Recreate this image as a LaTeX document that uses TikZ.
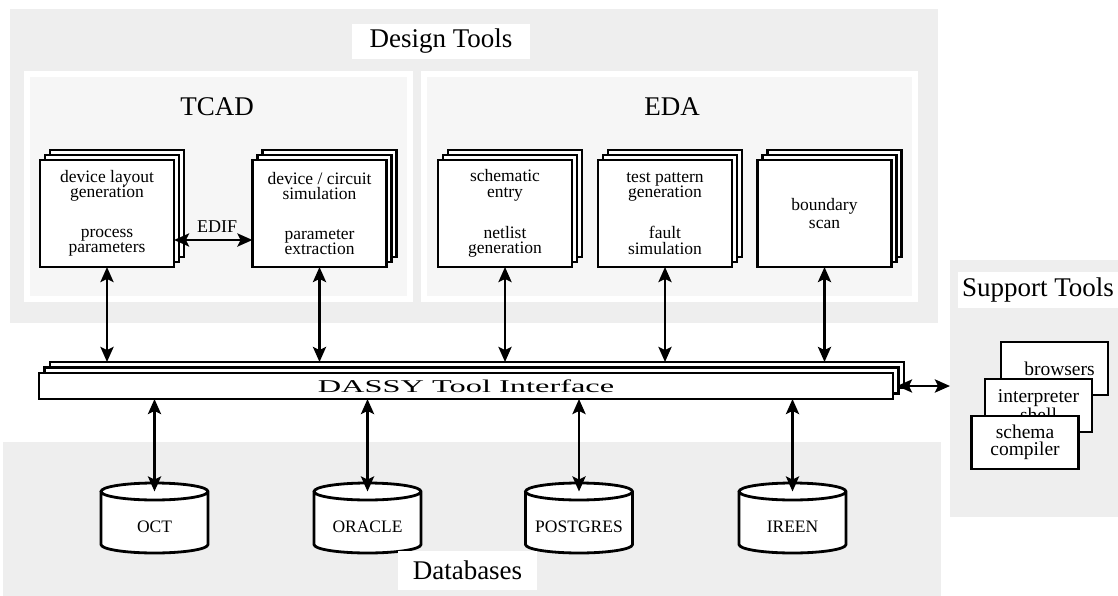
\documentclass[tikz,border=0pt]{standalone}
\usepackage{fontspec}
\setmainfont{Liberation Serif}
\usetikzlibrary{arrows.meta}
\definecolor{panelgray}{HTML}{EEEEEE}
\definecolor{subgray}{HTML}{F6F6F6}
\pgfdeclarelayer{bg}
\pgfdeclarelayer{mid}
\pgfsetlayers{bg,mid,main}
\begin{document}
\begin{tikzpicture}[x=1pt,y=-1pt,
  graypanel/.style={fill=panelgray,draw=none,inner sep=0pt,outer sep=0pt,anchor=north west},
  subpanel/.style={fill=subgray,draw=white,line width=6pt,inner sep=0pt,outer sep=0pt,anchor=north west},
  titlebox/.style={fill=white,inner sep=0pt,outer sep=0pt,font=\fontsize{27}{30}\selectfont},
  paneltitle/.style={font=\fontsize{27}{30}\selectfont,inner sep=0pt},
  toolbox/.style={draw,fill=white,line width=2.8pt,minimum width=134pt,minimum height=107pt,inner sep=0pt,outer sep=0pt,align=center,font=\fontsize{17.5}{15.5}\selectfont},
  layerbox/.style={draw,fill=white,line width=2.8pt},
  dbbody/.style={inner sep=0pt,outer sep=0pt,minimum width=107pt,minimum height=53pt,font=\fontsize{17.5}{20}\selectfont},
  cylpath/.style={draw,fill=white,line width=2.8pt},
  supbox/.style={draw,fill=white,line width=2.3pt,minimum width=107pt,minimum height=53pt,inner sep=0pt,outer sep=0pt,align=center,font=\fontsize{19.5}{17.5}\selectfont},
  biarrow/.style={line width=2.8pt,{Stealth[length=15pt,width=13pt,inset=3pt]}-{Stealth[length=15pt,width=13pt,inset=3pt]}},
  edif/.style={font=\fontsize{18}{20}\selectfont,inner sep=0pt}
]
\useasboundingbox (0,0) rectangle (1118,596);

% ---------- background panels ----------
\begin{pgfonlayer}{bg}
\node[graypanel,minimum width=928pt,minimum height=314pt] (design) at (10,9) {};
\node[graypanel,minimum width=938pt,minimum height=154pt] (dbpanel) at (3,442) {};
\node[graypanel,minimum width=168pt,minimum height=257pt] (supp) at (950,260) {};
\node[subpanel,minimum width=383pt,minimum height=225pt] (tcadp) at (27,74) {};
\node[subpanel,minimum width=491pt,minimum height=225pt] (edap) at (424,74) {};
\end{pgfonlayer}

% ---------- titles ----------
\node[titlebox,minimum width=178pt,minimum height=35pt] (designt) at (441,41.5) {Design Tools};
\node[titlebox,minimum width=160pt,minimum height=36pt] (suppt) at (1038,290) {Support Tools};
\node[titlebox,minimum width=139pt,minimum height=39pt] (dbt) at (467.5,570.5) {Databases};
\node[paneltitle] (tcadt) at (217,107) {TCAD};
\node[paneltitle] (edat) at (672,107) {EDA};

% ---------- tool boxes ----------
\node[toolbox] (b1) at (107,213.5) {device layout\\generation\\[24pt]process\\parameters};
\node[toolbox] (b2) at (319.5,213.5) {device / circuit\\simulation\\[24pt]parameter\\extraction};
\node[toolbox] (b3) at (505,213.5) {schematic\\entry\\[24pt]netlist\\generation};
\node[toolbox] (b4) at (665,213.5) {test pattern\\generation\\[24pt]fault\\simulation};
\node[toolbox] (b5) at (824.5,213.5) {boundary\\[3pt]scan};

\begin{pgfonlayer}{mid}
\foreach \b in {b1,b2,b3,b4,b5}{
  \draw[layerbox] ([shift={(10pt,10pt)}]\b.south west) rectangle ([shift={(10pt,10pt)}]\b.north east);
  \draw[layerbox] ([shift={(5pt,5pt)}]\b.south west) rectangle ([shift={(5pt,5pt)}]\b.north east);
}
\end{pgfonlayer}

% ---------- DASSY bar ----------
\node[draw,fill=white,line width=2.8pt,minimum width=854pt,minimum height=26pt,inner sep=0pt,outer sep=0pt,font=\fontsize{18}{20}\selectfont] (dassy) at (466,386) {\raisebox{-2.5pt}{\scalebox{1.8}[1]{DASSY Tool Interface}}};
\begin{pgfonlayer}{mid}
  \draw[layerbox] ([shift={(11pt,11pt)}]dassy.south west) rectangle ([shift={(11pt,11pt)}]dassy.north east);
  \draw[layerbox] ([shift={(5.5pt,5.5pt)}]dassy.south west) rectangle ([shift={(5.5pt,5.5pt)}]dassy.north east);
\end{pgfonlayer}
\coordinate (dassytop) at ([yshift=11pt]dassy.north);

% ---------- databases ----------
\node[dbbody] (c1) at (154.5,526.5) {OCT};
\node[dbbody] (c2) at (367.5,526.5) {ORACLE};
\node[dbbody] (c3) at (579,526.5) {POSTGRES};
\node[dbbody] (c4) at (792.5,526.5) {IREEN};
\begin{pgfonlayer}{mid}
\foreach \c in {c1,c2,c3,c4}{
  \draw[cylpath] ([yshift=8.5pt]\c.north west) -- ([yshift=8.5pt]\c.south west)
     arc[start angle=180,end angle=360,x radius=53.5pt,y radius=8.5pt]
     -- ([yshift=8.5pt]\c.north east)
     arc[start angle=0,end angle=360,x radius=53.5pt,y radius=8.5pt];
}
\end{pgfonlayer}

% ---------- support tools ----------
\node[supbox] (s1) at (1054.5,368.5) {\hspace*{10pt}browsers};
\node[supbox] (s2) at (1038.5,405.5) {interpreter\\shell};
\node[supbox] (s3) at (1025,442.5) {schema\\compiler};

% ---------- connectors ----------
\foreach \b in {b1,b2,b3,b4,b5}{
  \draw[biarrow] (\b.south) -- (\b.south |- dassytop);
}
\foreach \c in {c1,c2,c3,c4}{
  \draw[biarrow] (\c.north |- dassy.south) -- ([yshift=8.5pt]\c.north);
}
\draw[biarrow] ([yshift=-26.5pt]b1.east) -- ([yshift=-26.5pt]b1.east -| b2.west)
  node[edif,pos=0.55,above=6pt] (ediflbl) {EDIF};
\draw[biarrow] ([xshift=4pt]dassy.east) -- (dassy.east -| supp.west);
\end{tikzpicture}
\end{document}
